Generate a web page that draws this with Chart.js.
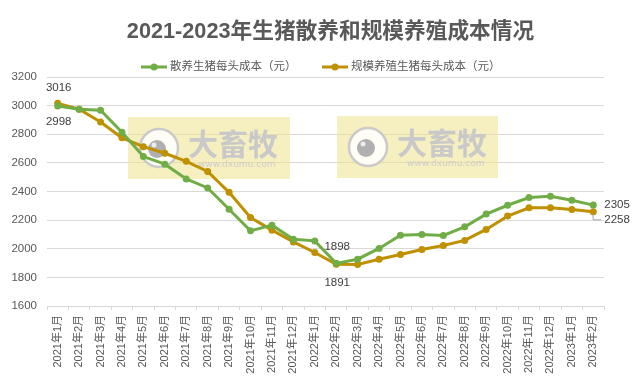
<!DOCTYPE html>
<html>
<head>
<meta charset="utf-8">
<script src="https://cdn.jsdelivr.net/npm/chart.js@4/dist/chart.umd.min.js"></script>
<style>
html,body{margin:0;padding:0;background:#fff;}
canvas{display:block;}
</style>
</head>
<body>
<canvas id="c" width="641" height="382"></canvas>
<script>
const months = ["2021年1月","2021年2月","2021年3月","2021年4月","2021年5月","2021年6月","2021年7月","2021年8月","2021年9月","2021年10月","2021年11月","2021年12月","2022年1月","2022年2月","2022年3月","2022年4月","2022年5月","2022年6月","2022年7月","2022年8月","2022年9月","2022年10月","2022年11月","2022年12月","2023年1月","2023年2月"];
const backyardCost = [2998,2975,2968,2814,2644,2591,2488,2425,2276,2125,2165,2067,2055,1898,1927,2002,2095,2100,2093,2153,2242,2304,2358,2367,2339,2305];
const scaleCost = [3016,2975,2886,2775,2713,2667,2611,2540,2394,2218,2130,2048,1974,1891,1890,1927,1960,1995,2023,2058,2135,2228,2286,2286,2274,2258];
const seriesNames = ["散养生猪每头成本（元）","规模养殖生猪每头成本（元）"];
const titleText = "2021-2023年生猪散养和规模养殖成本情况";
const yTicks = [1600,1800,2000,2200,2400,2600,2800,3000,3200];

const GREEN = "#70AD47";
const GOLD = "#BF9000";
const TXT = "#595959";
const FONT = '"Liberation Sans","Noto Sans CJK SC",sans-serif';

function drawWatermark(ctx, x, y, w, h) {
  ctx.save();
  ctx.fillStyle = "rgba(238,225,140,0.55)";
  ctx.fillRect(x, y, w, h);
  const cx = x + 31, cy = y + 31;
  ctx.beginPath(); ctx.arc(cx, cy, 19, 0, Math.PI*2);
  ctx.fillStyle = "rgba(255,255,255,0.85)"; ctx.fill();
  ctx.lineWidth = 2.5; ctx.strokeStyle = "#cacaca"; ctx.stroke();
  ctx.beginPath(); ctx.arc(cx - 2, cy + 1, 9, 0, Math.PI*2);
  ctx.fillStyle = "#b0b0b0"; ctx.fill();
  ctx.beginPath(); ctx.arc(cx - 5, cy - 3, 2.5, 0, Math.PI*2);
  ctx.fillStyle = "#ececec"; ctx.fill();
  ctx.fillStyle = "#c9c9c9";
  ctx.font = 'bold 30px "Noto Sans CJK SC",sans-serif';
  ctx.textAlign = "left"; ctx.textBaseline = "middle";
  ctx.fillText("大畜牧", x + 60, y + 27);
  ctx.font = '9px "DejaVu Sans",sans-serif';
  ctx.fillStyle = "#cdcdcd";
  ctx.fillText("www.dxumu.com", x + 70, y + 48);
  ctx.restore();
}

const decor = {
  id: "decor",
  beforeDraw(chart) {
    const ctx = chart.ctx;
    ctx.save();
    ctx.fillStyle = "#fff";
    ctx.fillRect(0, 0, chart.width, chart.height);
    ctx.restore();
  },
  beforeDatasetsDraw(chart) {
    drawWatermark(chart.ctx, 128, 117, 162, 62);
    drawWatermark(chart.ctx, 337, 116, 161, 62);
  },
  afterDraw(chart) {
    const ctx = chart.ctx;
    ctx.save();
    // title
    ctx.fillStyle = TXT;
    ctx.font = 'bold 21.7px ' + FONT;
    ctx.textAlign = "center"; ctx.textBaseline = "middle";
    ctx.fillText(titleText, 330.5, 32);
    // legend
    const items = [{x:141, c:GREEN, t:seriesNames[0]}, {x:322, c:GOLD, t:seriesNames[1]}];
    ctx.font = '11.5px ' + FONT;
    ctx.textAlign = "left";
    items.forEach(it => {
      ctx.strokeStyle = it.c; ctx.lineWidth = 3;
      ctx.beginPath(); ctx.moveTo(it.x, 67); ctx.lineTo(it.x + 26, 67); ctx.stroke();
      ctx.beginPath(); ctx.arc(it.x + 13, 67, 3.5, 0, Math.PI*2);
      ctx.fillStyle = it.c; ctx.fill();
      ctx.fillStyle = TXT;
      ctx.fillText(it.t, it.x + 29, 67);
    });
    // data labels
    const m0 = chart.getDatasetMeta(0).data;
    const m1 = chart.getDatasetMeta(1).data;
    ctx.fillStyle = "#404040";
    ctx.font = '11.5px ' + FONT;
    ctx.textAlign = "center";
    const n = months.length - 1;
    ctx.fillText(String(scaleCost[0]), m1[0].x + 1, m1[0].y - 16);
    ctx.fillText(String(backyardCost[0]), m0[0].x + 1, m0[0].y + 16);
    ctx.fillText(String(backyardCost[13]), m0[13].x + 1, m0[13].y - 17);
    ctx.fillText(String(scaleCost[13]), m1[13].x + 1, m1[13].y + 18);
    ctx.textAlign = "left";
    ctx.fillText(String(backyardCost[n]), m0[n].x + 11, m0[n].y);
    ctx.fillText(String(scaleCost[n]), m0[n].x + 11, m0[n].y + 15);
    ctx.strokeStyle = "#a6a6a6"; ctx.lineWidth = 1;
    ctx.beginPath();
    ctx.moveTo(m1[n].x - 0.5, m1[n].y + 2);
    ctx.lineTo(m1[n].x, m1[n].y + 8);
    ctx.lineTo(m1[n].x + 8, m1[n].y + 8);
    ctx.stroke();
    ctx.restore();
  }
};

new Chart(document.getElementById("c"), {
  type: "line",
  data: {
    labels: months,
    datasets: [
      {label: seriesNames[0], data: backyardCost, borderColor: GREEN, backgroundColor: GREEN,
       borderWidth: 3, pointRadius: 3.5, pointBorderWidth: 0, pointBackgroundColor: GREEN, tension: 0},
      {label: seriesNames[1], data: scaleCost, borderColor: GOLD, backgroundColor: GOLD,
       borderWidth: 3, pointRadius: 3.5, pointBorderWidth: 0, pointBackgroundColor: GOLD, tension: 0}
    ]
  },
  options: {
    responsive: false,
    devicePixelRatio: 1,
    animation: false,
    layout: {padding: {left: 0, right: 37, top: 77, bottom: 0}},
    plugins: {legend: {display: false}, title: {display: false}, tooltip: {enabled: false}},
    scales: {
      x: {
        offset: true,
        grid: {offset: true, drawOnChartArea: false, tickLength: 4, color: "#d9d9d9"},
        border: {color: "#d9d9d9"},
        ticks: {minRotation: 90, maxRotation: 90, autoSkip: false, color: TXT, font: {size: 11, family: FONT}, padding: 5},
        afterFit(s) { s.height = 76; }
      },
      y: {
        min: 1600, max: 3200,
        afterBuildTicks(s) { s.ticks = yTicks.map(v => ({value: v})); },
        grid: {color: "#d9d9d9", drawTicks: false},
        border: {display: false},
        ticks: {color: TXT, font: {size: 11.5, family: FONT}, padding: 10, callback: v => String(v)},
        afterFit(s) { s.width = 47; }
      }
    }
  },
  plugins: [decor]
});
</script>
</body>
</html>
